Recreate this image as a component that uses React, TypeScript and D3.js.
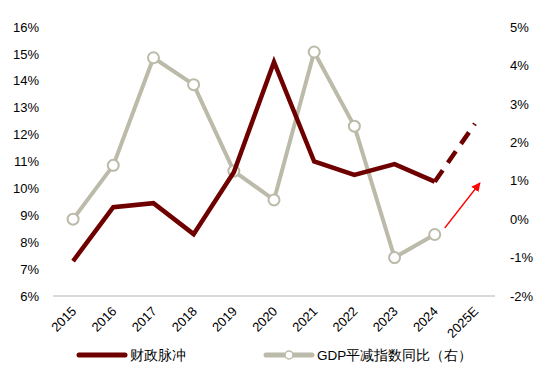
import * as React from "react";
import * as d3 from "d3";

const years: string[] = ["2015", "2016", "2017", "2018", "2019", "2020", "2021", "2022", "2023", "2024", "2025E"];
// 财政脉冲 (left axis, %)
const fiscalPulse: number[] = [7.3, 9.3, 9.45, 8.3, 10.6, 14.7, 11.0, 10.5, 10.9, 10.25];
const fiscalPulseForecast: number = 12.4;
// GDP平减指数同比 (right axis, %)
const gdpDeflator: number[] = [0.0, 1.4, 4.2, 3.5, 1.25, 0.5, 4.35, 2.42, -1.0, -0.4];
const leftTicks: number[] = [6, 7, 8, 9, 10, 11, 12, 13, 14, 15, 16];
const rightTicks: number[] = [-2, -1, 0, 1, 2, 3, 4, 5];
// red arrow: from just after 2024 to just after 2025E, right-axis values
const arrowFrom: number = -0.23;
const arrowTo: number = 0.94;

const red: string = "#6f0000";
const grey: string = "#bcbaa9";
const font: string = "'Liberation Sans', Arial, sans-serif";

interface Pt {
    x: number;
    y: number;
}

const width: number = 550;
const height: number = 374;
const margin = { top: 27, right: 55, bottom: 78, left: 53 };

function App(): JSX.Element {
    const ref = React.useRef<SVGSVGElement>(null);

    React.useEffect(() => {
        const svg = d3.select(ref.current);
        svg.selectAll("*").remove();

        const x = d3.scaleBand<string>().domain(years).range([margin.left, width - margin.right]);
        const cx = (name: string): number => (x(name) as number) + x.bandwidth() / 2;
        const yL = d3.scaleLinear().domain([6, 16]).range([height - margin.bottom, margin.top]);
        const yR = d3.scaleLinear().domain([-2, 5]).range([height - margin.bottom, margin.top]);

        // base line
        svg.append("line")
            .attr("x1", margin.left).attr("x2", width - margin.right)
            .attr("y1", yL(6)).attr("y2", yL(6))
            .attr("stroke", "#d9d9d9").attr("stroke-width", 2);

        const leftAxis = svg.append("g")
            .attr("transform", `translate(${margin.left - 11},0)`)
            .call(d3.axisLeft(yL).tickValues(leftTicks).tickSize(0).tickFormat((d) => `${d}%`));
        const rightAxis = svg.append("g")
            .attr("transform", `translate(${width - margin.right + 12},0)`)
            .call(d3.axisRight(yR).tickValues(rightTicks).tickSize(0).tickFormat((d) => `${d}%`));
        [leftAxis, rightAxis].forEach((a) => {
            a.select(".domain").remove();
            a.selectAll("text")
                .attr("font-family", font).attr("font-size", 13).attr("fill", "#000")
                .attr("dx", 0);
        });

        const bottomAxis = svg.append("g")
            .attr("transform", `translate(0,${yL(6)})`)
            .call(d3.axisBottom(x).tickSize(0));
        bottomAxis.select(".domain").remove();
        bottomAxis.selectAll("text")
            .attr("font-family", font).attr("font-size", 13).attr("fill", "#000")
            .attr("text-anchor", "end")
            .attr("dy", 0)
            .attr("transform", "translate(2,14) rotate(-45)");

        // gray line
        const gPts: Pt[] = gdpDeflator.map((v, i) => ({ x: cx(years[i]), y: yR(v) }));
        const line = d3.line<Pt>().x((p) => p.x).y((p) => p.y);
        svg.append("path")
            .attr("d", line(gPts))
            .attr("fill", "none").attr("stroke", grey).attr("stroke-width", 4)
            .attr("stroke-linejoin", "round");
        svg.selectAll(".marker").data(gPts).enter().append("circle")
            .attr("cx", (p) => p.x).attr("cy", (p) => p.y).attr("r", 5.5)
            .attr("fill", "#fff").attr("stroke", grey).attr("stroke-width", 2);

        // fiscal pulse
        const fPts: Pt[] = fiscalPulse.map((v, i) => ({ x: cx(years[i]), y: yL(v) }));
        svg.append("path")
            .attr("d", line(fPts))
            .attr("fill", "none").attr("stroke", red).attr("stroke-width", 4.5)
            .attr("stroke-linejoin", "miter");
        const last: Pt = fPts[fPts.length - 1];
        svg.append("path")
            .attr("d", line([last, { x: cx("2025E"), y: yL(fiscalPulseForecast) }]))
            .attr("fill", "none").attr("stroke", red).attr("stroke-width", 4.5)
            .attr("stroke-dasharray", "14,9");

        // red arrow
        svg.append("defs").append("marker")
            .attr("id", "arrowHead")
            .attr("viewBox", "0 0 10 10").attr("refX", 9).attr("refY", 5)
            .attr("markerWidth", 9).attr("markerHeight", 9).attr("markerUnits", "userSpaceOnUse")
            .attr("orient", "auto")
            .append("path").attr("d", "M0,0 L10,5 L0,10 Z").attr("fill", "#ff0000");
        const ax0: number = cx("2024") + 10;
        const ax1: number = cx("2025E") + 5;
        svg.append("line")
            .attr("x1", ax0).attr("y1", yR(arrowFrom))
            .attr("x2", ax1).attr("y2", yR(arrowTo))
            .attr("stroke", "#ff0000").attr("stroke-width", 1.3)
            .attr("marker-end", "url(#arrowHead)");

        // legend
        const ly: number = 355;
        svg.append("line")
            .attr("x1", 79).attr("x2", 125).attr("y1", ly).attr("y2", ly)
            .attr("stroke", red).attr("stroke-width", 5).attr("stroke-linecap", "round");
        svg.append("text")
            .attr("x", 130).attr("y", ly + 5)
            .attr("font-family", font).attr("font-size", 13.5)
            .text("财政脉冲");
        svg.append("line")
            .attr("x1", 266).attr("x2", 312).attr("y1", ly).attr("y2", ly)
            .attr("stroke", grey).attr("stroke-width", 5).attr("stroke-linecap", "round");
        svg.append("circle")
            .attr("cx", 289).attr("cy", ly).attr("r", 4)
            .attr("fill", "#fff").attr("stroke", grey).attr("stroke-width", 1.5);
        svg.append("text")
            .attr("x", 317).attr("y", ly + 5)
            .attr("font-family", font).attr("font-size", 13.5)
            .text("GDP平减指数同比（右）");
    }, []);

    return (
        <svg ref={ref} width={width} height={height}
            style={{ position: "absolute", left: 0, top: 0, background: "#fff" }} />
    );
}

export default App;
